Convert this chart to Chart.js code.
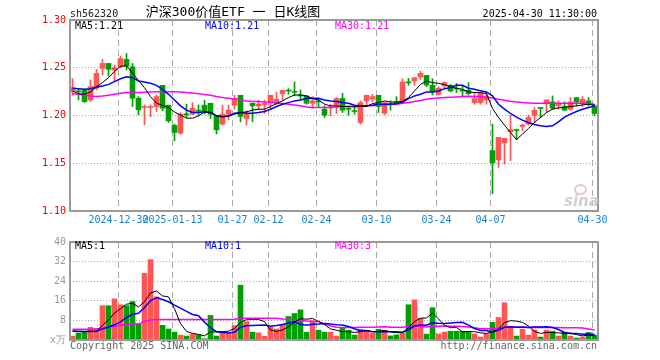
<!DOCTYPE html>
<html>
<head>
<meta charset="utf-8">
<script src="https://cdn.jsdelivr.net/npm/chart.js@4.4.0/dist/chart.umd.min.js"></script>
<style>
  body { margin: 0; background: #fff; }
  #wrap { position: relative; width: 660px; height: 360px; font-family: "DejaVu Sans Mono", monospace; font-size: 10px; }
  canvas { position: absolute; left: 0; }
  .t { position: absolute; line-height: 12px; white-space: pre; }
</style>
</head>
<body>
<div id="wrap">
  <canvas id="kline" width="660" height="232" style="top:0"></canvas>
  <canvas id="vol" width="660" height="128" style="top:232px"></canvas>

  <div class="t" style="left:70px;top:8px;color:#222">sh562320</div>
  <div class="t" style="left:133px;top:4px;width:200px;text-align:center;font-size:13px;line-height:16px;font-family:'DejaVu Sans Mono','Noto Sans CJK SC',monospace;color:#000">沪深300价值ETF 一 日K线图</div>
  <div class="t" style="right:63px;top:8px;color:#000">2025-04-30 11:30:00</div>

  <div class="t" style="left:75px;top:20px;color:#000">MA5:1.21</div>
  <div class="t" style="left:205px;top:20px;color:#00f">MA10:1.21</div>
  <div class="t" style="left:335px;top:20px;color:#f0f">MA30:1.21</div>

  <div style="position:absolute;left:574px;top:184px;width:9px;height:7px;border:2px solid #f3c4c4;border-radius:50%"></div>
  <div class="t" style="left:564px;top:193px;font:italic bold 15px 'DejaVu Sans',sans-serif;line-height:16px;color:#d0d0d0">sina</div>

  <div class="t" style="left:75px;top:240px;color:#000">MA5:1</div>
  <div class="t" style="left:205px;top:240px;color:#00f">MA10:1</div>
  <div class="t" style="left:335px;top:240px;color:#f0f">MA30:3</div>

  <div class="t" style="left:70px;top:340px;color:#666">Copyright 2025 SINA.COM</div>
  <div class="t" style="right:63px;top:340px;color:#666">http://finance.sina.com.cn</div>
</div>
<script>
const dates = [
    '2024-12-18', '2024-12-19', '2024-12-20', '2024-12-23', '2024-12-24', '2024-12-25', '2024-12-26', '2024-12-27', '2024-12-30', '2024-12-31',
    '2025-01-02', '2025-01-03', '2025-01-06', '2025-01-07', '2025-01-08', '2025-01-09', '2025-01-10', '2025-01-13', '2025-01-14', '2025-01-15',
    '2025-01-16', '2025-01-17', '2025-01-20', '2025-01-21', '2025-01-22', '2025-01-23', '2025-01-24', '2025-01-27',
    '2025-02-05', '2025-02-06', '2025-02-07', '2025-02-10', '2025-02-11', '2025-02-12', '2025-02-13', '2025-02-14', '2025-02-17', '2025-02-18',
    '2025-02-19', '2025-02-20', '2025-02-21', '2025-02-24', '2025-02-25', '2025-02-26', '2025-02-27', '2025-02-28',
    '2025-03-03', '2025-03-04', '2025-03-05', '2025-03-06', '2025-03-07', '2025-03-10', '2025-03-11', '2025-03-12', '2025-03-13', '2025-03-14',
    '2025-03-17', '2025-03-18', '2025-03-19', '2025-03-20', '2025-03-21', '2025-03-24', '2025-03-25', '2025-03-26', '2025-03-27', '2025-03-28', '2025-03-31',
    '2025-04-01', '2025-04-02', '2025-04-03', '2025-04-07', '2025-04-08', '2025-04-09', '2025-04-10', '2025-04-11', '2025-04-14', '2025-04-15',
    '2025-04-16', '2025-04-17', '2025-04-18', '2025-04-21', '2025-04-22', '2025-04-23', '2025-04-24', '2025-04-25', '2025-04-28', '2025-04-29', '2025-04-30'
];
const tickDates = ['2024-12-30', '2025-01-13', '2025-01-27', '2025-02-12', '2025-02-24', '2025-03-10', '2025-03-24', '2025-04-07', '2025-04-30'];
const tickLabels = ['2024-12-30', '2025-01-13', '01-27', '02-12', '02-24', '03-10', '03-24', '04-07', '04-30'];
const priceTicks = [1.10, 1.15, 1.20, 1.25, 1.30];
const volTicks = [0, 8, 16, 24, 32, 40];

const open = [
    1.2250, 1.2258, 1.2267, 1.2163, 1.2285, 1.2493, 1.2545, 1.2476, 1.2510, 1.2587,
    1.2510, 1.2181, 1.2083, 1.2083, 1.2094, 1.2316, 1.2108, 1.1896, 1.1816, 1.2017,
    1.2014, 1.2056, 1.2108, 1.2128, 1.2003, 1.1910, 1.2014, 1.2108, 1.2212, 1.1969,
    1.2128, 1.2101, 1.2111, 1.2135, 1.2128, 1.2229, 1.2267, 1.2252, 1.2214, 1.2205,
    1.2128, 1.2153, 1.2066, 1.2080, 1.2108, 1.2177, 1.2075, 1.2052, 1.1927, 1.2153,
    1.2170, 1.2212, 1.2024, 1.2126, 1.2143, 1.2135, 1.2352, 1.2361, 1.2403, 1.2420,
    1.2316, 1.2222, 1.2309, 1.2316, 1.2287, 1.2266, 1.2264, 1.2135, 1.2135, 1.2163,
    1.1632, 1.1535, 1.1712, 1.1830, 1.1852, 1.1885, 1.1910, 1.2003, 1.2084, 1.2135,
    1.2142, 1.2101, 1.2094, 1.2066, 1.2188, 1.2135, 1.2153, 1.2101
];
const high = [
    1.2385, 1.2285, 1.2274, 1.2372, 1.2483, 1.2587, 1.2545, 1.2528, 1.2622, 1.2649,
    1.2545, 1.2198, 1.2111, 1.2111, 1.2215, 1.2316, 1.2108, 1.1910, 1.2031, 1.2118,
    1.2135, 1.2111, 1.2160, 1.2128, 1.2003, 1.2108, 1.2108, 1.2212, 1.2212, 1.2049,
    1.2128, 1.2160, 1.2160, 1.2212, 1.2247, 1.2264, 1.2281, 1.2351, 1.2267, 1.2212,
    1.2198, 1.2177, 1.2101, 1.2118, 1.2188, 1.2233, 1.2101, 1.2101, 1.2153, 1.2212,
    1.2222, 1.2212, 1.2142, 1.2153, 1.2198, 1.2385, 1.2389, 1.2396, 1.2462, 1.2420,
    1.2385, 1.2302, 1.2354, 1.2326, 1.2337, 1.2309, 1.2344, 1.2240, 1.2240, 1.2240,
    1.1910, 1.1771, 1.1760, 1.2003, 1.1858, 1.1910, 1.2003, 1.2083, 1.2084, 1.2163,
    1.2205, 1.2153, 1.2142, 1.2188, 1.2188, 1.2198, 1.2188, 1.2118
];
const low = [
    1.2212, 1.2163, 1.2135, 1.2146, 1.2267, 1.2424, 1.2413, 1.2354, 1.2500, 1.2476,
    1.2094, 1.2007, 1.1903, 1.1986, 1.2042, 1.2049, 1.1927, 1.1736, 1.1806, 1.1979,
    1.2007, 1.1997, 1.2014, 1.1969, 1.1806, 1.1899, 1.1955, 1.2066, 1.1934, 1.1899,
    1.1934, 1.2066, 1.2021, 1.2066, 1.2118, 1.2163, 1.2222, 1.2205, 1.2170, 1.2118,
    1.2076, 1.2090, 1.1979, 1.1997, 1.2021, 1.2031, 1.2003, 1.2014, 1.1910, 1.2108,
    1.2142, 1.2031, 1.2007, 1.2056, 1.2128, 1.2128, 1.2316, 1.2316, 1.2378, 1.2302,
    1.2215, 1.2215, 1.2281, 1.2247, 1.2240, 1.2205, 1.2215, 1.2118, 1.2118, 1.2118,
    1.1181, 1.1458, 1.1493, 1.1528, 1.1747, 1.1840, 1.1899, 1.1920, 1.1979, 1.2031,
    1.2066, 1.2066, 1.2049, 1.2056, 1.2101, 1.2094, 1.2101, 1.1997
];
const close = [
    1.2292, 1.2248, 1.2146, 1.2302, 1.2441, 1.2545, 1.2483, 1.2500, 1.2597, 1.2517,
    1.2181, 1.2059, 1.2094, 1.2094, 1.2198, 1.2076, 1.1944, 1.1823, 1.2014, 1.2007,
    1.2076, 1.2045, 1.2031, 1.2014, 1.1851, 1.2014, 1.2056, 1.2177, 1.1990, 1.2014,
    1.2101, 1.2118, 1.2128, 1.2212, 1.2170, 1.2264, 1.2257, 1.2242, 1.2204, 1.2128,
    1.2153, 1.2142, 1.2003, 1.2090, 1.2177, 1.2056, 1.2065, 1.2042, 1.2135, 1.2212,
    1.2198, 1.2094, 1.2135, 1.2116, 1.2133, 1.2351, 1.2342, 1.2396, 1.2441, 1.2319,
    1.2250, 1.2285, 1.2344, 1.2257, 1.2277, 1.2256, 1.2229, 1.2177, 1.2240, 1.2198,
    1.1503, 1.1771, 1.1760, 1.1851, 1.1842, 1.1899, 1.1979, 1.2056, 1.2074, 1.2163,
    1.2076, 1.2128, 1.2056, 1.2142, 1.2142, 1.2170, 1.2125, 1.2021
];
const ma5 = [
    1.2257, 1.2229, 1.2222, 1.2247, 1.2300, 1.2345, 1.2395, 1.2462, 1.2515, 1.2522,
    1.2445, 1.2366, 1.2291, 1.2197, 1.2130, 1.2106, 1.2082, 1.2038, 1.2004, 1.1972,
    1.1972, 1.1995, 1.2038, 1.2031, 1.1997, 1.1986, 1.1990, 1.2014, 1.2031, 1.2038,
    1.2056, 1.2066, 1.2066, 1.2094, 1.2125, 1.2153, 1.2188, 1.2215, 1.2215, 1.2205,
    1.2177, 1.2163, 1.2118, 1.2101, 1.2101, 1.2094, 1.2094, 1.2090, 1.2094, 1.2094,
    1.2125, 1.2135, 1.2153, 1.2142, 1.2142, 1.2146, 1.2188, 1.2257, 1.2326, 1.2361,
    1.2344, 1.2337, 1.2323, 1.2302, 1.2285, 1.2274, 1.2247, 1.2240, 1.2240, 1.2229,
    1.2073, 1.1979, 1.1899, 1.1823, 1.1747, 1.1806, 1.1865, 1.1927, 1.1979, 1.2031,
    1.2066, 1.2080, 1.2087, 1.2094, 1.2101, 1.2111, 1.2118, 1.2108
];
const ma10 = [
    1.2285, 1.2281, 1.2274, 1.2281, 1.2299, 1.2309, 1.2326, 1.2354, 1.2385, 1.2406,
    1.2396, 1.2361, 1.2351, 1.2337, 1.2316, 1.2274, 1.2222, 1.2163, 1.2101, 1.2056,
    1.2031, 1.2031, 1.2038, 1.2031, 1.1997, 1.1986, 1.1997, 1.2024, 1.2031, 1.2024,
    1.2024, 1.2031, 1.2042, 1.2066, 1.2094, 1.2118, 1.2135, 1.2153, 1.2163, 1.2177,
    1.2181, 1.2181, 1.2163, 1.2153, 1.2146, 1.2135, 1.2128, 1.2108, 1.2101, 1.2101,
    1.2108, 1.2118, 1.2118, 1.2118, 1.2122, 1.2142, 1.2177, 1.2205, 1.2222, 1.2247,
    1.2247, 1.2257, 1.2281, 1.2292, 1.2316, 1.2316, 1.2285, 1.2274, 1.2260, 1.2247,
    1.2205, 1.2118, 1.2066, 1.2021, 1.1983, 1.1951, 1.1924, 1.1906, 1.1892, 1.1885,
    1.1892, 1.1934, 1.1983, 1.2014, 1.2042, 1.2066, 1.2083, 1.2101
];
const ma30 = [
    1.2229, 1.2222, 1.2215, 1.2205, 1.2200, 1.2205, 1.2212, 1.2222, 1.2233, 1.2240,
    1.2240, 1.2240, 1.2244, 1.2247, 1.2250, 1.2250, 1.2250, 1.2250, 1.2247, 1.2240,
    1.2236, 1.2229, 1.2219, 1.2212, 1.2198, 1.2188, 1.2181, 1.2174, 1.2163, 1.2153,
    1.2146, 1.2146, 1.2142, 1.2139, 1.2132, 1.2125, 1.2118, 1.2111, 1.2101, 1.2090,
    1.2083, 1.2083, 1.2083, 1.2083, 1.2090, 1.2094, 1.2094, 1.2097, 1.2101, 1.2101,
    1.2104, 1.2108, 1.2111, 1.2115, 1.2118, 1.2128, 1.2135, 1.2146, 1.2156, 1.2170,
    1.2177, 1.2184, 1.2188, 1.2191, 1.2194, 1.2198, 1.2201, 1.2198, 1.2198, 1.2191,
    1.2184, 1.2170, 1.2160, 1.2149, 1.2142, 1.2135, 1.2132, 1.2128, 1.2128, 1.2128,
    1.2128, 1.2128, 1.2128, 1.2128, 1.2128, 1.2128, 1.2125, 1.2118
];

// volume, 万手
const volume = [
    1.6, 2.8, 3.2, 5.2, 4.8, 14, 14, 16.8, 14.4, 14,
    15.7, 6.5, 27.2, 32.8, 17.6, 6, 4.5, 3.2, 2, 1.6,
    2.4, 2.1, 0.5, 10, 1.6, 2.8, 3.1, 5.9, 22.4, 7.5,
    3.2, 2.9, 1.5, 5.2, 4.5, 6.4, 9.6, 10.8, 12.3, 3.2,
    7.9, 4, 3.2, 3.2, 1.6, 4.9, 4, 2, 4.4, 3.7,
    2.8, 4.4, 4, 1.7, 2.1, 2.8, 14.4, 16.4, 8.8, 2.4,
    13.2, 2.4, 3.2, 3.6, 3.6, 3.6, 3.5, 2.5, 1.2, 2.5,
    7.2, 9.2, 15.2, 5.5, 1.6, 4.4, 2, 4.1, 1.2, 4,
    3.6, 1.6, 3.2, 1.6, 0.8, 1.2, 3.1, 2
];
const volMa5 = [
    3.7, 3.6, 3.5, 3.6, 3.5, 6.0, 8.2, 11.0, 12.8, 14.6,
    15.0, 13.5, 15.6, 19.2, 20.0, 18.0, 17.6, 12.8, 6.7, 3.5,
    2.7, 2.3, 1.7, 3.3, 3.3, 3.4, 3.6, 4.7, 7.2, 8.3,
    8.4, 8.4, 7.5, 4.1, 3.5, 4.1, 5.4, 7.3, 8.7, 8.5,
    8.8, 7.6, 6.3, 4.5, 4.0, 3.4, 3.4, 3.1, 3.4, 3.8,
    3.4, 3.5, 3.9, 3.3, 3.0, 3.0, 5.0, 7.5, 8.9, 9.0,
    11.0, 8.6, 6.0, 5.0, 5.2, 3.3, 3.5, 3.4, 2.9, 2.7,
    3.4, 4.5, 7.1, 7.9, 7.7, 7.2, 5.7, 3.5, 2.7, 3.1,
    3.0, 2.9, 2.7, 2.8, 2.2, 1.7, 2.0, 1.7
];
const volMa10 = [
    3.6, 3.5, 3.5, 3.5, 3.6, 4.5, 5.3, 6.2, 7.4, 9.1,
    10.5, 10.9, 13.3, 16.0, 17.3, 16.5, 15.6, 14.2, 13.0, 11.7,
    10.4, 9.9, 7.3, 5.0, 3.4, 3.1, 2.9, 3.2, 5.2, 5.8,
    5.9, 6.0, 6.1, 5.6, 5.9, 6.3, 6.9, 7.4, 6.4, 6.0,
    6.4, 6.5, 6.7, 6.5, 6.2, 6.1, 5.5, 4.6, 3.8, 3.9,
    3.4, 3.4, 3.5, 3.4, 3.4, 3.2, 4.2, 5.7, 6.1, 6.0,
    7.0, 6.8, 6.7, 6.9, 7.1, 7.2, 6.1, 4.7, 3.9, 3.9,
    3.3, 4.0, 5.2, 5.4, 5.2, 5.3, 5.1, 5.3, 5.3, 5.4,
    5.1, 4.3, 3.1, 2.7, 2.7, 2.3, 2.4, 2.2
];
const volMa30 = [
    4.4, 4.4, 4.4, 4.4, 4.5, 4.8, 5.2, 5.6, 6.0, 6.2,
    6.4, 6.6, 7.6, 8.2, 8.4, 8.4, 8.4, 8.4, 8.4, 8.4,
    8.4, 8.4, 8.4, 8.4, 8.4, 8.4, 8.4, 8.5, 8.8, 8.9,
    8.9, 8.9, 8.9, 8.9, 8.9, 8.6, 8.5, 8.3, 8.2, 7.8,
    7.6, 7.5, 6.7, 5.7, 5.2, 5.1, 5.1, 5.1, 5.2, 5.2,
    5.2, 5.3, 5.4, 5.2, 5.2, 5.2, 5.6, 5.9, 5.5, 5.3,
    5.6, 5.6, 5.7, 5.6, 5.6, 5.5, 5.3, 5.0, 4.6, 4.6,
    4.6, 4.8, 5.2, 5.2, 5.2, 5.2, 5.1, 5.2, 5.1, 5.1,
    5.1, 5.1, 5.0, 5.0, 5.0, 4.9, 4.5, 4.1
];

const UP = '#ff5555';
const DOWN = '#00a000';
const FONT = 'DejaVu Sans Mono';
const barColors = close.map((c, i) => c >= open[i] ? UP : DOWN);
const tickIndex = tickDates.map(d => dates.indexOf(d));
const xMin = -5 / 12;
const xMax = dates.length - 5 / 12;

const frame = {
    id: 'frame',
    afterDraw(chart) {
        const { ctx, chartArea: a } = chart;
        ctx.save();
        ctx.strokeStyle = '#999';
        ctx.lineWidth = 2;
        ctx.strokeRect(a.left, a.top, a.right - a.left, a.bottom - a.top);
        ctx.restore();
    }
};

function points(values) {
    return values.map((v, i) => ({ x: i, y: v }));
}

function lineSet(values, color, width) {
    return { type: 'line', data: points(values), borderColor: color, borderWidth: width, pointRadius: 0, tension: 0 };
}

function xScale(showLabels, height) {
    return {
        type: 'linear',
        min: xMin,
        max: xMax,
        bounds: 'data',
        offset: false,
        afterBuildTicks: s => { s.ticks = tickIndex.map(i => ({ value: i - 1 / 3 })); },
        afterFit: s => { s.height = height; },
        ticks: {
            display: showLabels,
            autoSkip: false,
            maxRotation: 0,
            minRotation: 0,
            padding: 3,
            color: '#1582d8',
            font: { family: FONT, size: 10 },
            callback: (v, i) => tickLabels[i]
        },
        grid: { color: '#aaa', drawTicks: false, offset: false },
        border: { display: false, dash: [6, 4] }
    };
}

function yScale(min, max, tickValues, color, format) {
    return {
        min,
        max,
        afterBuildTicks: s => { s.ticks = tickValues.map(v => ({ value: v })); },
        afterFit: s => { s.width = 70; },
        ticks: { color, padding: 4, font: { family: FONT, size: 10 }, callback: format },
        grid: { color: '#aaa', drawTicks: false },
        border: { display: false, dash: [1, 2] }
    };
}

const common = {
    responsive: false,
    animation: false,
    events: [],
    plugins: { legend: { display: false }, tooltip: { enabled: false } }
};

new Chart(document.getElementById('kline'), {
    type: 'bar',
    data: {
        datasets: [
            lineSet(ma5, '#000', 1),
            lineSet(ma10, '#00f', 1.5),
            lineSet(ma30, '#f0f', 1.5),
            {
                data: open.map((o, i) => ({ x: i, y: [o, close[i]] })),
                backgroundColor: barColors,
                barThickness: 5,
                grouped: false
            },
            {
                data: low.map((l, i) => ({ x: i, y: [l, high[i]] })),
                backgroundColor: barColors,
                barThickness: 1,
                grouped: false
            }
        ]
    },
    options: {
        ...common,
        layout: { padding: { top: 20, right: 62, left: 0, bottom: 0 } },
        scales: {
            x: xScale(true, 21),
            y: yScale(1.10, 1.30, priceTicks, '#e00', v => v.toFixed(2))
        }
    },
    plugins: [frame]
});

new Chart(document.getElementById('vol'), {
    type: 'bar',
    data: {
        datasets: [
            lineSet(volMa5, '#000', 1),
            lineSet(volMa10, '#00f', 1.5),
            lineSet(volMa30, '#f0f', 1.5),
            {
                data: points(volume),
                backgroundColor: barColors,
                barThickness: 5,
                grouped: false
            }
        ]
    },
    options: {
        ...common,
        layout: { padding: { top: 8, right: 62, left: 0, bottom: 0 } },
        scales: {
            x: xScale(false, 20),
            y: yScale(0, 40, volTicks, '#999', v => v === 0 ? 'x万' : String(v))
        }
    },
    plugins: [frame]
});
</script>
</body>
</html>
